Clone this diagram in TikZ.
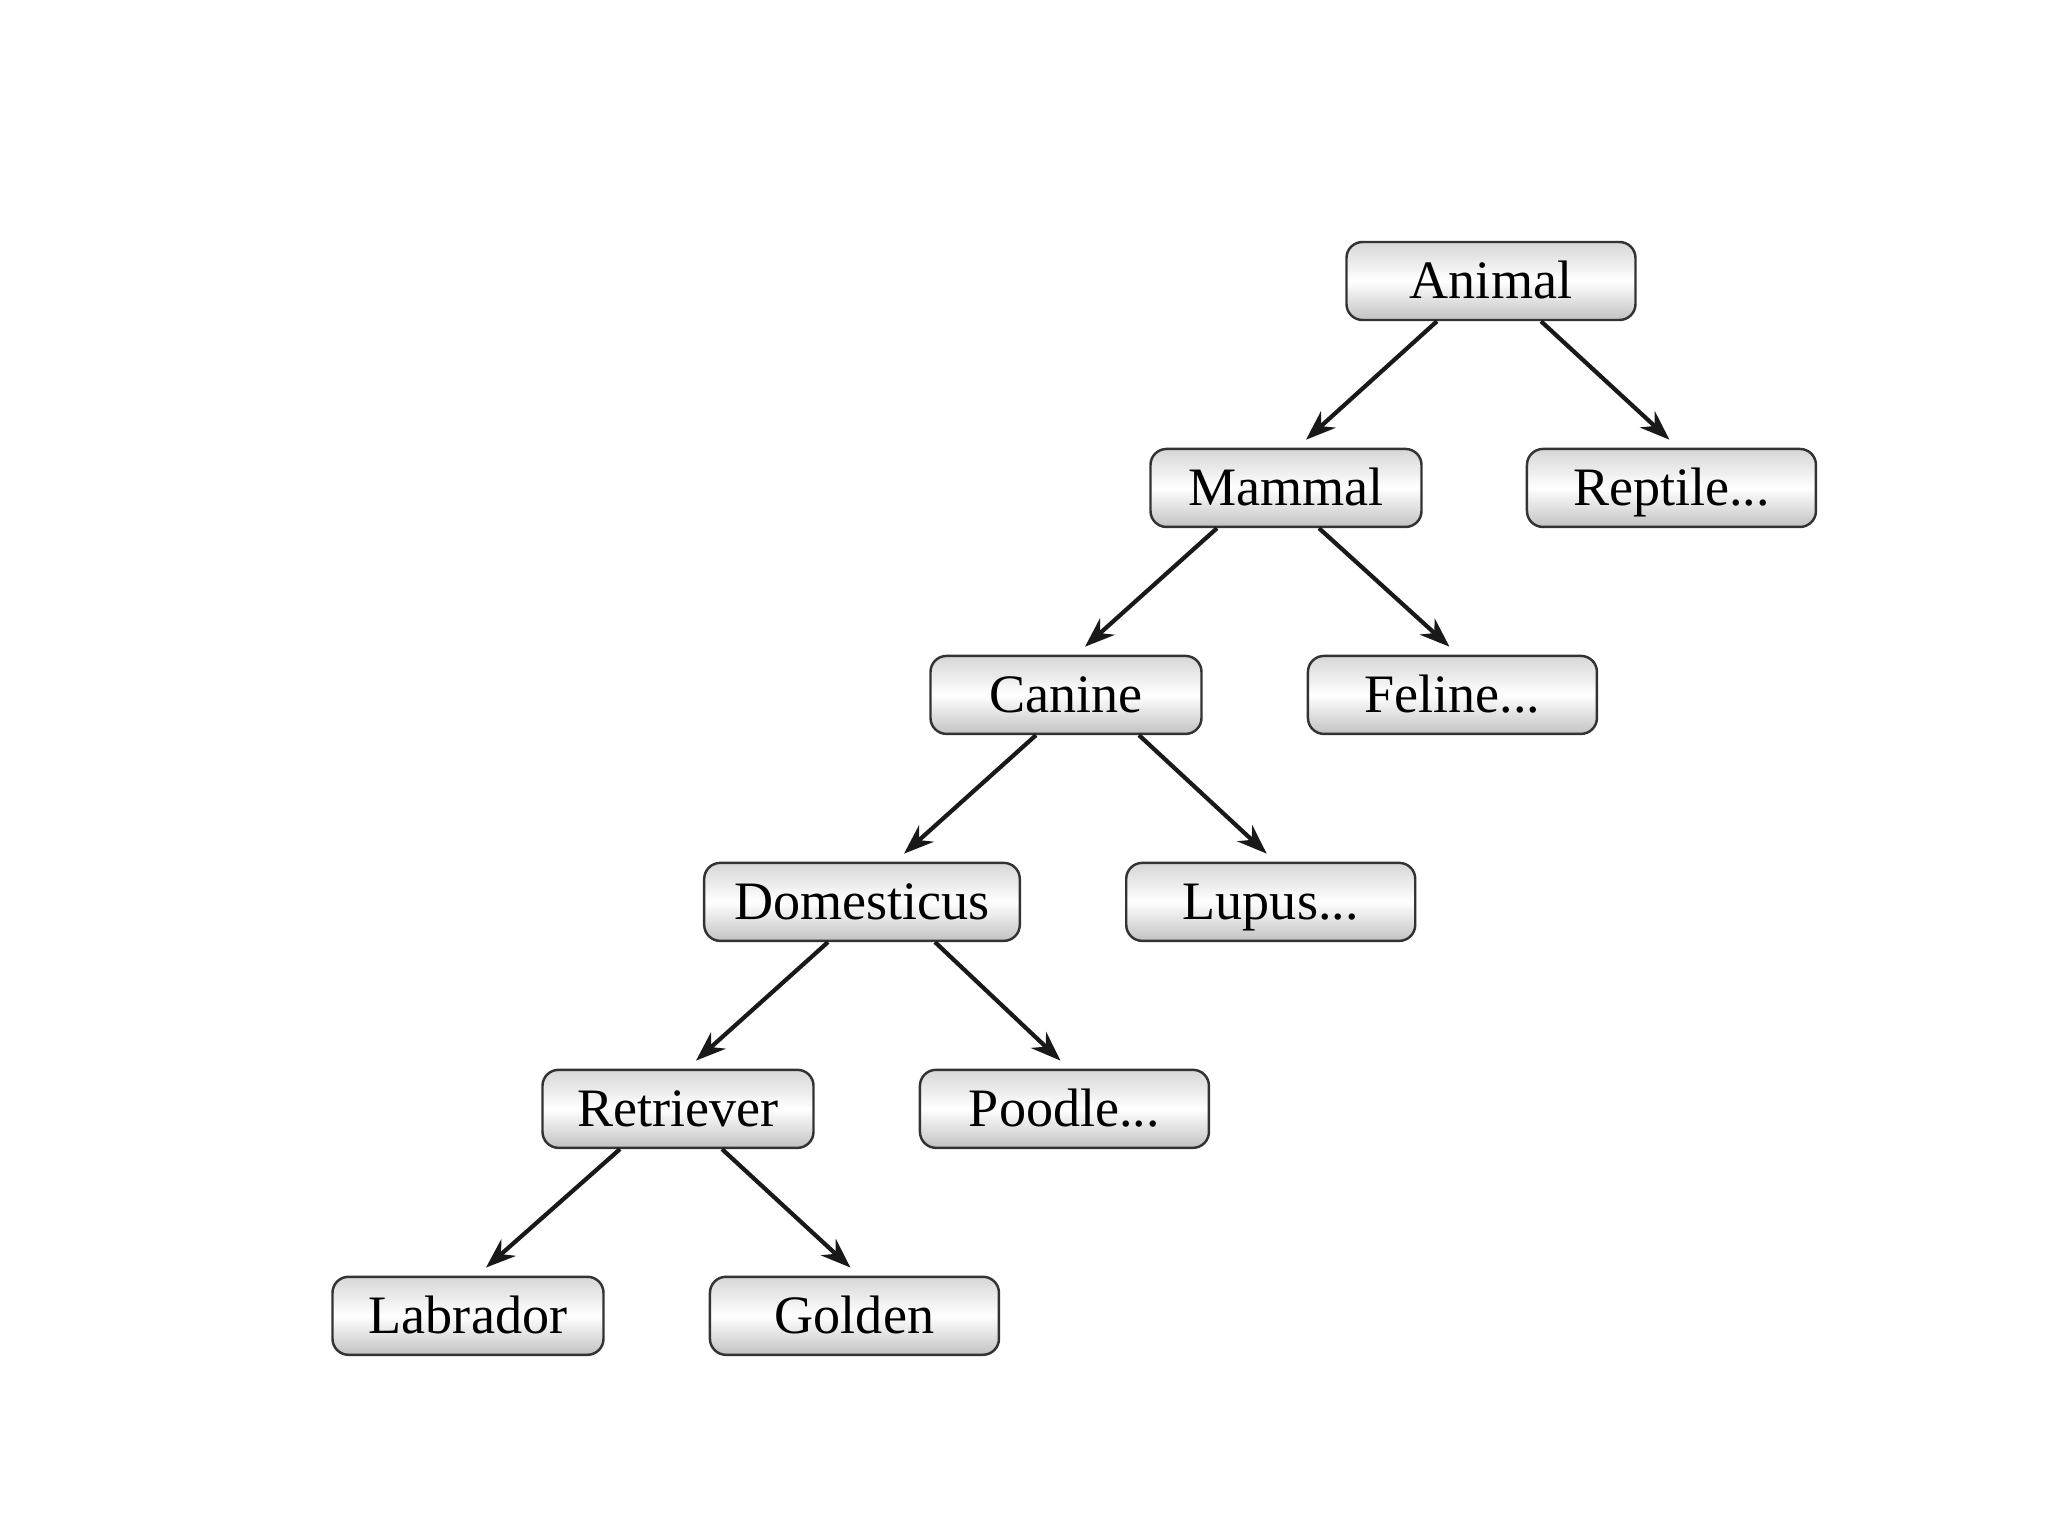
\documentclass[tikz,border=0pt]{standalone}
\usepackage{fontspec}
\setmainfont{Liberation Serif}
\usepackage{tikz}
\usetikzlibrary{arrows.meta, calc, positioning}
\tikzstyle{taxon} = [rectangle, rounded corners=1.6mm, draw=black!80, line width=0.7pt, minimum width=2.71cm, minimum height=0.78cm, inner xsep=0.3cm, inner ysep=1pt, text height=12pt, text depth=1.8pt, text centered, top color=black!16, bottom color=black!24, middle color=white, font=\fontsize{15.4}{18}\selectfont]
\tikzstyle{wide} = [taxon, minimum width=2.89cm]
\tikzstyle{arrow} = [line width=1.2pt, draw=black!90, -{Stealth[length=3mm, width=2.2mm]}]

\begin{document}
\begin{tikzpicture}[node distance = 1.265cm, auto]
		\useasboundingbox (0,0) rectangle (20.48,-15.36);
		\node (Animal) [wide] at (14.91,-2.81) {Animal};
		\node (Mammal) [taxon, below = of Animal, xshift=-2.05cm] {Mammal};
		\node (Reptile) [wide, right = 1.03cm of Mammal] {Reptile...};
		\node (Canine) [taxon, below = of Mammal, xshift=-2.20cm] {Canine};
		\node (Feline) [wide, right = 1.04cm of Canine] {Feline...};
		\node (Domesticus) [taxon, below = of Canine, xshift=-2.04cm] {Domesticus};
		\node (Lupus) [wide, right = 1.04cm of Domesticus] {Lupus...};
		\node (Retriever) [taxon, below = of Domesticus, xshift=-1.84cm] {Retriever};
		\node (Poodle) [wide, right = 1.04cm of Retriever] {Poodle...};
		\node (Labrador) [taxon, below = of Retriever, xshift=-2.10cm] {Labrador};
		\node (Golden) [wide, right = 1.04cm of Labrador] {Golden};
		
		\draw [arrow] ($(Animal.south) + (-0.54,0)$) -- ($(Mammal.north) + (0.20,0.08)$);
		\draw [arrow] ($(Animal.south) + (0.50,0)$) -- ($(Reptile.north) + (-0.02,0.08)$);
		\draw [arrow] ($(Mammal.south) + (-0.69,0)$) -- ($(Canine.north) + (0.19,0.08)$);
		\draw [arrow] ($(Mammal.south) + (0.33,0)$) -- ($(Feline.north) + (-0.03,0.08)$);
		\draw [arrow] ($(Canine.south) + (-0.30,0)$) -- ($(Domesticus.north) + (0.42,0.08)$);
		\draw [arrow] ($(Canine.south) + (0.73,0)$) -- ($(Lupus.north) + (-0.04,0.08)$);
		\draw [arrow] ($(Domesticus.south) + (-0.34,0)$) -- ($(Retriever.north) + (0.18,0.08)$);
		\draw [arrow] ($(Domesticus.south) + (0.73,0)$) -- ($(Poodle.north) + (-0.04,0.08)$);
		\draw [arrow] ($(Retriever.south) + (-0.58,0)$) -- ($(Labrador.north) + (0.18,0.08)$);
		\draw [arrow] ($(Retriever.south) + (0.44,0)$) -- ($(Golden.north) + (-0.04,0.08)$);
		\end{tikzpicture}
\end{document}
